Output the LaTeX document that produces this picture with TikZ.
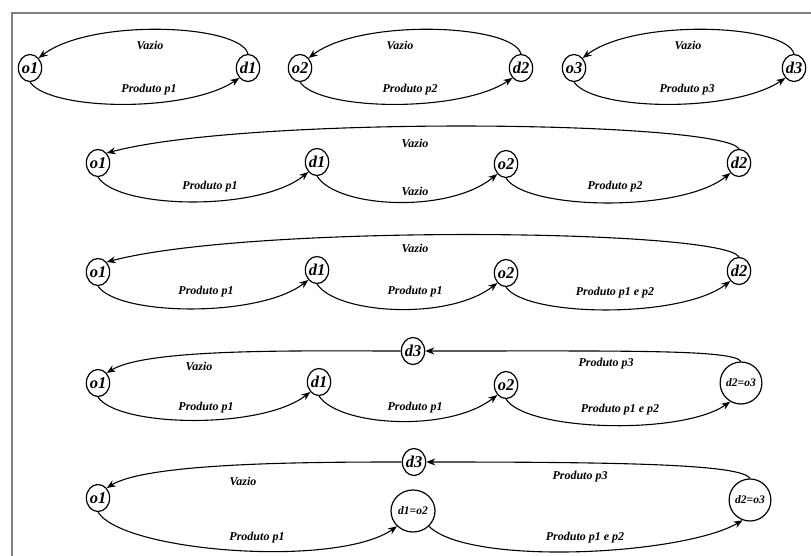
\documentclass[tikz,border=0pt]{standalone}
\usepackage{fontspec}
\setmainfont{Liberation Serif}
\usetikzlibrary{shapes.geometric}
\usetikzlibrary{arrows.meta,positioning}

\begin{document}
\begin{tikzpicture}[x=1pt, y=-1pt,
    st/.style={draw, ellipse, line width=1.2pt, minimum width=23pt, minimum height=27pt, inner sep=0pt,
      font=\fontsize{16.5}{16.5}\selectfont\bfseries\itshape},
    bigst/.style={st, minimum width=40pt, minimum height=42pt,
      font=\fontsize{11.5}{11.5}\selectfont\bfseries\itshape},
    lbl/.style={inner sep=1pt, font=\fontsize{12}{12}\selectfont\bfseries\itshape},
    arr/.style={line width=1.1pt, -{Stealth[length=9pt, width=7pt]}}]
\useasboundingbox (0,0) rectangle (811,556);

% frame
\draw[gray, line width=1.2pt] (12,556) -- (12,13) -- (811,13);

% row 1: three separate routes
\foreach \i/\xo/\xd/\xv/\xp in {1/30/248/150/149, 2/300/521/400/410, 3/574/794/688/687}
{
  \node[st] (A-o\i) at (\xo,68) {o\i};
  \node[st] (A-d\i) at (\xd,68) {d\i};
  \node[lbl] (A-v\i) at (\xv,45) {Vazio};
  \node[lbl] (A-p\i) at (\xp,90) {Produto p\i};
  \draw[arr] (A-d\i.north) .. controls +(-8,-30) and +(52,-40) .. (A-o\i.north east);
  \draw[arr] (A-o\i.south) .. controls +(20,29) and +(-52,35) .. (A-d\i.south west);
}

% row 2
\node[st] (B-o1) at (98,163) {o1};
\node[st] (B-d1) at (317,162) {d1};
\node[st] (B-o2) at (506,164) {o2};
\node[st] (B-d2) at (739,163) {d2};
\node[lbl] (B-v1) at (415,143) {Vazio};
\node[lbl] (B-p1) at (210,187) {Produto p1};
\node[lbl] (B-v2) at (415,191) {Vazio};
\node[lbl] (B-p2) at (615,187) {Produto p2};
\draw[arr] (B-d2.north) .. controls +(-16,-28) and +(144,-38) .. (B-o1.north east);
\draw[arr] (B-o1.south) .. controls +(20,32) and +(-49,40) .. (B-d1.south west);
\draw[arr] (B-d1.south) .. controls +(20,32) and +(-49,40) .. (B-o2.south west);
\draw[arr] (B-o2.south) .. controls +(20,32) and +(-49,40) .. (B-d2.south west);

% row 3
\node[st] (C-o1) at (98,272) {o1};
\node[st] (C-d1) at (317,270) {d1};
\node[st] (C-o2) at (506,273) {o2};
\node[st] (C-d2) at (739,271) {d2};
\node[lbl] (C-v1) at (415,248) {Vazio};
\node[lbl] (C-p1) at (206,292) {Produto p1};
\node[lbl] (C-p2) at (415,292) {Produto p1};
\node[lbl] (C-p3) at (615,293) {Produto p1 e p2};
\draw[arr] (C-d2.north) .. controls +(-16,-28) and +(144,-38) .. (C-o1.north east);
\draw[arr] (C-o1.south) .. controls +(20,30) and +(-49,38) .. (C-d1.south west);
\draw[arr] (C-d1.south) .. controls +(20,30) and +(-49,38) .. (C-o2.south west);
\draw[arr] (C-o2.south) .. controls +(20,30) and +(-49,38) .. (C-d2.south west);

% row 4
\node[st] (D-d3) at (413,351) {d3};
\node[st] (D-o1) at (98,383) {o1};
\node[st] (D-d1) at (319,382) {d1};
\node[st] (D-o2) at (506,385) {o2};
\node[bigst] (D-d2o3) at (741,383) {d2=o3};
\node[lbl] (D-v1) at (199,366) {Vazio};
\node[lbl] (D-p3) at (606,364) {Produto p3};
\node[lbl] (D-p1) at (206,408) {Produto p1};
\node[lbl] (D-p2) at (415,408) {Produto p1};
\node[lbl] (D-p12) at (620,410) {Produto p1 e p2};
\draw[arr] (D-d2o3.north) .. controls +(-8,-12) and +(200,0) .. (D-d3.east);
\draw[arr] (D-d3.west) .. controls +(-100,0) and +(40,-25) .. (D-o1.north east);
\draw[arr] (D-o1.south) .. controls +(20,30) and +(-49,38) .. (D-d1.south west);
\draw[arr] (D-d1.south) .. controls +(20,30) and +(-49,38) .. (D-o2.south west);
\draw[arr] (D-o2.south) .. controls +(20,32) and +(-49,34) .. (D-d2o3.240);

% row 5
\node[st] (E-d3) at (414,462) {d3};
\node[st] (E-o1) at (98,498) {o1};
\node[bigst, minimum width=44pt] (E-d1o2) at (413,511) {d1=o2};
\node[bigst, minimum width=38pt] (E-d2o3) at (750,500) {d2=o3};
\node[lbl] (E-v1) at (243,481) {Vazio};
\node[lbl] (E-p3) at (580,477) {Produto p3};
\node[lbl] (E-p1) at (257,538) {Produto p1};
\node[lbl] (E-p12) at (585,538) {Produto p1 e p2};
\draw[arr] (E-d2o3.north) .. controls +(-8,-14) and +(200,0) .. (E-d3.east);
\draw[arr] (E-d3.west) .. controls +(-100,0) and +(40,-25) .. (E-o1.north east);
\draw[arr] (E-o1.south) .. controls +(25,40) and +(-60,42) .. (E-d1o2.south west);
\draw[arr] (E-d1o2.south east) .. controls +(40,40) and +(-60,35) .. (E-d2o3.250);
\end{tikzpicture}
\end{document}
